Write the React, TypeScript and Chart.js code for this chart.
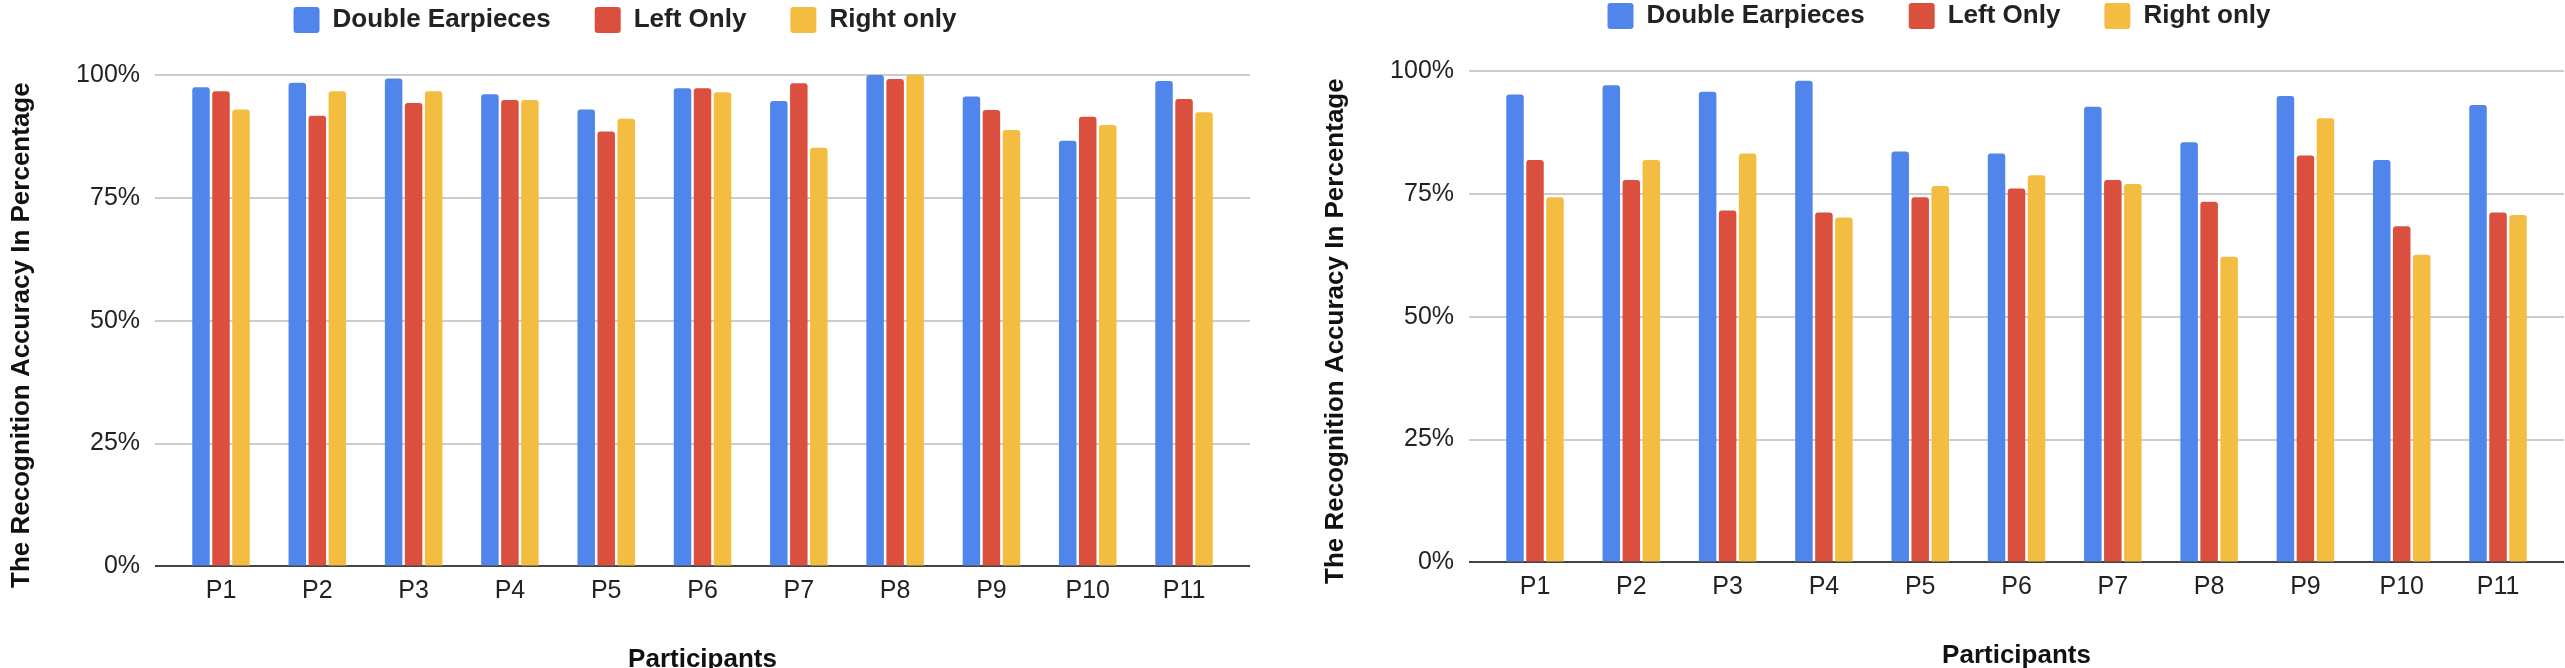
import React, { useEffect, useRef } from "react";
import { Chart, registerables } from "chart.js";

Chart.register(...registerables);

// ---------- data ----------
const categories = ["P1", "P2", "P3", "P4", "P5", "P6", "P7", "P8", "P9", "P10", "P11"];
const seriesNames = ["Double Earpieces", "Left Only", "Right only"];
const seriesColors = ["#5086EC", "#DB4F3F", "#F3BD42"];
const yTickValues = [0, 25, 50, 75, 100];

// left chart
const leftDouble = [97.5, 98.4, 99.3, 96.1, 93.0, 97.3, 94.7, 100, 95.6, 86.6, 98.8];
const leftLeftOnly = [96.7, 91.7, 94.3, 94.9, 88.5, 97.3, 98.3, 99.2, 92.9, 91.5, 95.1];
const leftRightOnly = [93.0, 96.7, 96.7, 94.9, 91.1, 96.5, 85.2, 100, 88.8, 89.8, 92.4];

// right chart
const rightDouble = [95.2, 97.1, 95.8, 98.0, 83.6, 83.2, 92.7, 85.5, 94.9, 81.9, 93.1];
const rightLeftOnly = [81.9, 77.8, 71.6, 71.2, 74.3, 76.1, 77.8, 73.4, 82.8, 68.4, 71.2];
const rightRightOnly = [74.3, 81.9, 83.2, 70.2, 76.6, 78.8, 77.0, 62.2, 90.4, 62.6, 70.7];

const X_TITLE = "Participants";
const Y_TITLE = "The Recognition Accuracy In Percentage";

// ---------- styling ----------
const FONT = "'Liberation Sans', Arial, Helvetica, sans-serif";
const EXT = 0.185; // extra category space on both sides of the plot

function makeConfig(series: number[][]): any {
  return {
    type: "bar",
    data: {
      labels: categories,
      datasets: series.map((d, i) => ({
        label: seriesNames[i],
        data: d,
        backgroundColor: seriesColors[i],
        borderWidth: 0,
        borderRadius: { topLeft: 3, topRight: 3, bottomLeft: 0, bottomRight: 0 },
        borderSkipped: false,
        barPercentage: 0.875,
        categoryPercentage: 0.623,
      })),
    },
    options: {
      animation: false,
      responsive: true,
      maintainAspectRatio: false,
      layout: { padding: 0 },
      plugins: {
        tooltip: { enabled: false },
        legend: {
          display: true,
          position: "top",
          align: "center",
          labels: {
            boxWidth: 26,
            boxHeight: 26,
            padding: 44,
            color: "#222222",
            useBorderRadius: true,
            borderRadius: 3,
            font: { family: FONT, size: 26, weight: "bold" },
          },
        },
        title: {
          display: true,
          text: "",
          weight: 100,
          padding: { top: 10, bottom: 10 },
          font: { family: FONT, size: 12, lineHeight: 1 },
        },
      },
      scales: {
        x: {
          type: "category",
          offset: true,
          grid: { display: false, drawTicks: false },
          border: { display: false },
          ticks: {
            padding: 10,
            color: "#222222",
            font: { family: FONT, size: 25 },
            autoSkip: false,
            maxRotation: 0,
          },
          title: {
            display: true,
            text: X_TITLE,
            color: "#111111",
            font: { family: FONT, size: 26, weight: "bold", lineHeight: 1.2 },
            padding: { top: 27.4, bottom: 0 },
          },
          afterBuildTicks: (s: any) => {
            s._startValue = -0.5 - EXT;
            s._valueRange = categories.length + 2 * EXT;
          },
        },
        y: {
          min: 0,
          max: 100,
          afterBuildTicks: (s: any) => {
            s.ticks = yTickValues.map((value) => ({ value }));
          },
          ticks: {
            padding: 15,
            color: "#222222",
            font: { family: FONT, size: 25 },
            callback: (v: any) => v + "%",
          },
          grid: {
            drawTicks: false,
            lineWidth: 2,
            color: (ctx: any) => (ctx.tick && ctx.tick.value === 0 ? "#444444" : "#cccccc"),
          },
          border: { display: false },
          title: {
            display: true,
            text: Y_TITLE + "    ",
            color: "#111111",
            font: { family: FONT, size: 26, weight: "bold", lineHeight: 1.2 },
            padding: { top: 6.4, bottom: 23.5 },
          },
        },
      },
    },
  };
}

function BarChart({ series, left, top }: { series: number[][]; left: number; top: number }) {
  const ref = useRef<HTMLCanvasElement | null>(null);
  useEffect(() => {
    if (!ref.current) return;
    const chart = new Chart(ref.current, makeConfig(series));
    return () => chart.destroy();
  }, [series]);
  return (
    <div style={{ position: "absolute", left, top, width: 1250, height: 712 }}>
      <canvas ref={ref} />
    </div>
  );
}

const leftSeries = [leftDouble, leftLeftOnly, leftRightOnly];
const rightSeries = [rightDouble, rightLeftOnly, rightRightOnly];

export default function App() {
  return (
    <div
      style={{
        position: "absolute",
        left: 0,
        top: 0,
        width: 2565,
        height: 668,
        overflow: "hidden",
        background: "#ffffff",
      }}
    >
      <BarChart series={leftSeries} left={0} top={-37} />
      <BarChart series={rightSeries} left={1314} top={-41} />
    </div>
  );
}
